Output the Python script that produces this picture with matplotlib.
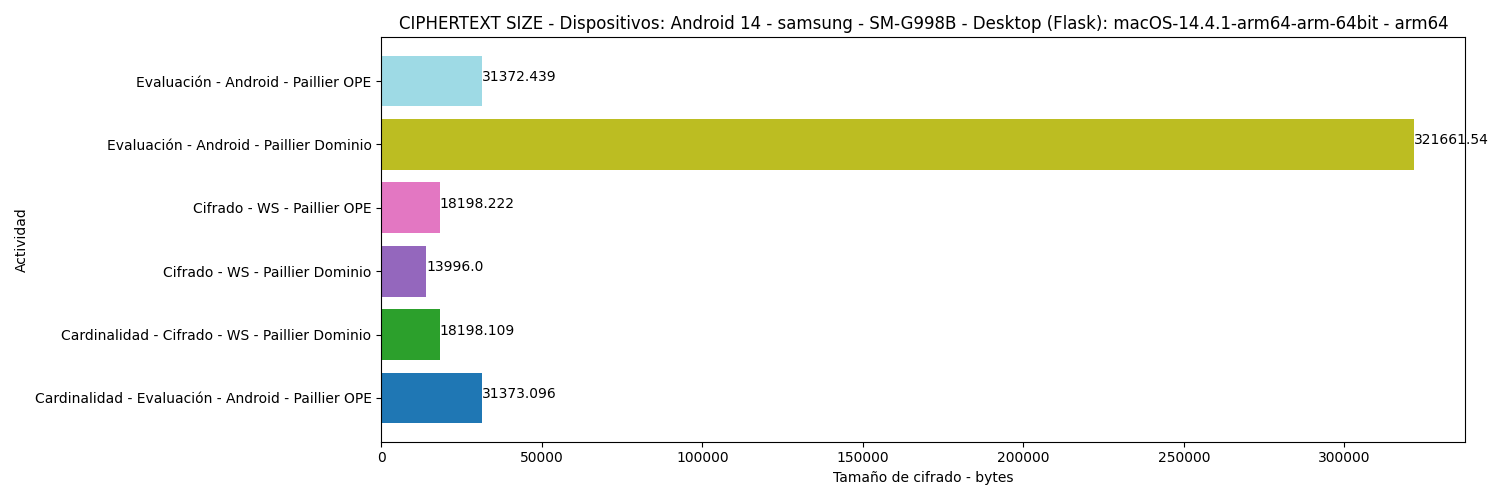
import numpy as np
import matplotlib.pyplot as plt

# -----------------------------
# Data
# -----------------------------
actividades = [
    "Cardinalidad - Evaluación - Android - Paillier OPE",
    "Cardinalidad - Cifrado - WS - Paillier Dominio",
    "Cifrado - WS - Paillier Dominio",
    "Cifrado - WS - Paillier OPE",
    "Evaluación - Android - Paillier Dominio",
    "Evaluación - Android - Paillier OPE",
]
tamanos = [31373.096, 18198.109, 13996.0, 18198.222, 321661.54, 31372.439]

titulo = ("CIPHERTEXT SIZE - Dispositivos: Android 14 - samsung - SM-G998B - "
          "Desktop (Flask): macOS-14.4.1-arm64-arm-64bit - arm64")

# -----------------------------
# Plot
# -----------------------------
colores = plt.cm.tab20(np.linspace(0, 1, len(actividades)))

fig, ax = plt.subplots(figsize=(15, 5), dpi=100)

ax.barh(actividades, tamanos, color=colores)

for i, v in enumerate(tamanos):
    ax.text(v, i, str(v))

ax.set_xlabel("Tamaño de cifrado - bytes")
ax.set_ylabel("Actividad")
ax.set_title(titulo)

plt.tight_layout()
plt.savefig("out.png")
